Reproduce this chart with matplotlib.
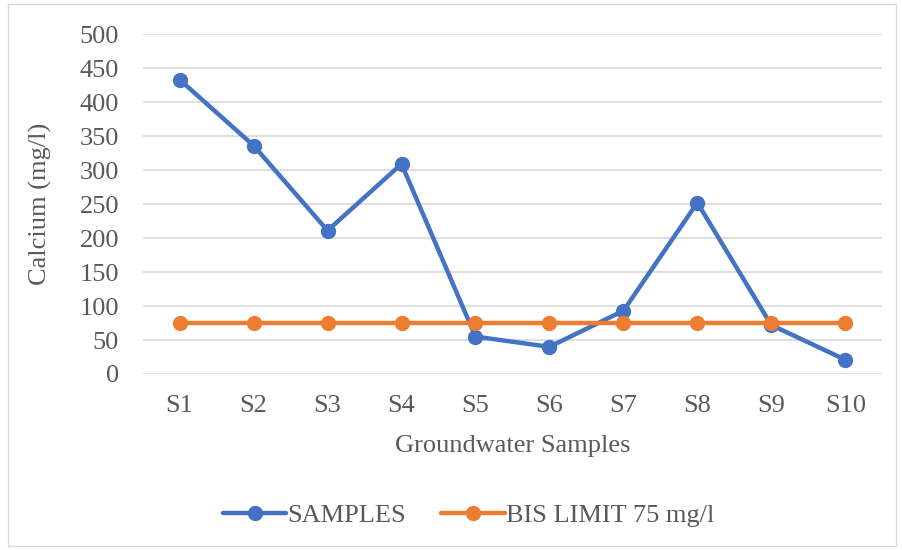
import matplotlib
matplotlib.use("Agg")
import matplotlib.pyplot as plt
from matplotlib.patches import Rectangle

categories = ["S1", "S2", "S3", "S4", "S5", "S6", "S7", "S8", "S9", "S10"]
samples = [433, 336, 211, 309, 55, 40, 93, 252, 72, 21]
bis_limit = [75] * len(categories)
y_ticks = [0, 50, 100, 150, 200, 250, 300, 350, 400, 450, 500]

plt.rcParams["font.family"] = ["Liberation Serif", "DejaVu Serif"]
text_color = "#595959"
blue = "#4472C4"
orange = "#ED7D31"
fs = 19

fig = plt.figure(figsize=(9.03, 5.5), dpi=100)
fig.patches.append(Rectangle((0.009, 0.008), 0.983, 0.985, transform=fig.transFigure,
                             fill=False, edgecolor="#D9D9D9", linewidth=1))
ax = fig.add_axes([0.158, 0.32, 0.819, 0.618])

x = list(range(len(categories)))
ax.plot(x, samples, color=blue, linewidth=3.2, marker="o", markersize=10,
        label="SAMPLES", zorder=3, solid_capstyle="round")
ax.plot(x, bis_limit, color=orange, linewidth=3.2, marker="o", markersize=10,
        label="BIS LIMIT 75 mg/l", zorder=3, solid_capstyle="round")

ax.set_xlim(-0.5, len(categories) - 0.5)
ax.set_ylim(0, 500)
ax.set_yticks(y_ticks)
ax.set_xticks(x)
ax.set_xticklabels(categories)
ax.grid(axis="y", color="#D9D9D9", linewidth=1.2)
ax.set_axisbelow(True)
for s in ax.spines.values():
    s.set_visible(False)
ax.tick_params(axis="both", length=0, labelsize=fs, colors=text_color)
ax.tick_params(axis="y", pad=17)
ax.tick_params(axis="x", pad=15)

ax.set_xlabel("Groundwater Samples", fontsize=fs, color=text_color, labelpad=13)
ax.set_ylabel("Calcium (mg/l)", fontsize=fs, color=text_color, labelpad=20)

fig.legend(loc="center", bbox_to_anchor=(0.519, 0.063), ncol=2, frameon=False,
           fontsize=fs, labelcolor=text_color, handlelength=2.4, handletextpad=0.05,
           columnspacing=1.33)

fig.savefig("out.png", dpi=100)
